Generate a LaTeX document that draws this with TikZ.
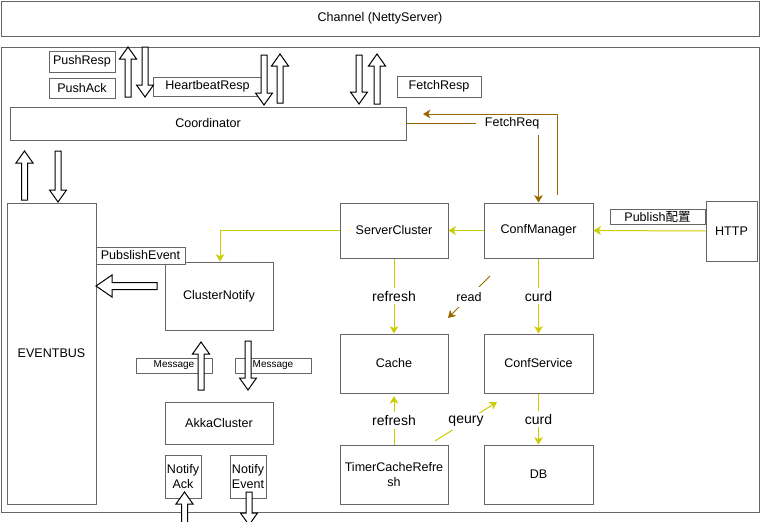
\documentclass[tikz,border=0pt]{standalone}
\usepackage{fontspec}
\setmainfont{Liberation Sans}
\newfontfamily\cjk{Noto Sans CJK SC}
\usetikzlibrary{arrows.meta}
\definecolor{linegray}{RGB}{102,102,102}
\definecolor{yel}{RGB}{204,204,0}
\definecolor{brn}{RGB}{153,102,0}
\tikzset{
  box/.style 2 args={draw=linegray, line width=0.75pt, minimum width=#1*0.75pt,
    minimum height=#2*0.75pt, inner sep=0pt, align=center},
  blockarr/.style={draw=black, fill=white, line width=0.75pt, line join=miter},
  yline/.style={draw=yel, line width=0.75pt, -{Stealth[length=5.5pt, width=6.5pt, inset=1.5pt]}},
  bline/.style={draw=brn, line width=0.75pt, -{Stealth[length=5.5pt, width=6.5pt, inset=1.5pt]}},
  lbl/.style={fill=white, inner sep=2.5pt, font=\fontsize{10.5}{12}\selectfont},
  smalllbl/.style={fill=white, inner sep=2.5pt},
}
% hollow block arrows: x, tip, base  /  x, top, tip  /  y, tip, base
\newcommand\hollowup[3]{\draw[blockarr] (#1-3,#3) -- (#1-3,#2+12) -- (#1-8.5,#2+12) -- (#1,#2) -- (#1+8.5,#2+12) -- (#1+3,#2+12) -- (#1+3,#3) -- cycle;}
\newcommand\hollowdown[3]{\draw[blockarr] (#1-3,#2) -- (#1-3,#3-12) -- (#1-8.5,#3-12) -- (#1,#3) -- (#1+8.5,#3-12) -- (#1+3,#3-12) -- (#1+3,#2) -- cycle;}
\newcommand\hollowleft[3]{\draw[blockarr] (#3,#1-3.5) -- (#2+16,#1-3.5) -- (#2+16,#1-11) -- (#2,#1) -- (#2+16,#1+11) -- (#2+16,#1+3.5) -- (#3,#1+3.5) -- cycle;}
\begin{document}
\begin{tikzpicture}[x=0.75pt, y=-0.75pt, font=\fontsize{9.4}{11}\selectfont]
\useasboundingbox (0,0) rectangle (760,521);
% frames
\node[box={758}{35}] (Channel) at (380,18.5) {Channel (NettyServer)};
\draw[linegray, line width=0.75pt] (1,47) rectangle (759,512);
% top row
\node[box={66}{21}] (PushResp) at (82,61.5) {PushResp};
\node[box={66}{20}] (PushAck) at (82,88) {PushAck};
\node[box={109}{19}] (HbResp) at (207.5,86.5) {HeartbeatResp};
\node[box={84}{21}] (FetchResp) at (439,86.5) {FetchResp};
\node[box={396}{33}] (Coord) at (208,123.5) {Coordinator};
% left part
\node[box={89}{301}] (EventBus) at (51.5,353.5) {EVENTBUS};
\node[box={108}{68}] (ClNotify) at (219,296) {ClusterNotify};
\node[box={89}{17}, fill=white] (PubEvent) at (140.5,255.5) {PubslishEvent};
\node[box={76}{15}, font=\fontsize{7.5}{9}\selectfont] (Msg_up) at (174,365.5) {Message};
\node[box={76}{15}, font=\fontsize{7.5}{9}\selectfont] (Msg_down) at (273,365.5) {Message};
\node[box={108}{42}] (Akka) at (219,423) {AkkaCluster};
\node[box={36}{43}] (NAck) at (183,476.5) {Notify\\Ack};
\node[box={36}{43}] (NEvent) at (248,476.5) {Notify\\Event};
% right part
\node[box={108}{55}] (SCluster) at (394,230.5) {ServerCluster};
\node[box={109}{55}] (ConfM) at (538.5,230.5) {ConfManager};
\node[box={51}{60}] (Http) at (731.5,231) {HTTP};
\node[box={95}{15}] (Publish) at (657.5,216.5) {Publish{\cjk 配置}};
\node[box={108}{59}] (Cache) at (394,363.5) {Cache};
\node[box={109}{59}] (ConfSvc) at (538.5,363.5) {ConfService};
\node[box={108}{59}] (Timer) at (394,474.5) {TimerCacheRefre\\sh};
\node[box={109}{59}] (DB) at (538.5,474.5) {DB};
% yellow flows
\draw[yline] (Http.west) -- (ConfM.east);
\draw[yline] (ConfM.west) -- (SCluster.east);
\draw[yline] (SCluster.west) -| ([xshift=0.75pt]ClNotify.north);
\draw[yline] (SCluster) -- (Cache) node[midway, lbl] {refresh};
\draw[yline] (ConfM) -- (ConfSvc) node[midway, lbl] {curd};
\draw[yline] (Timer.north) -- ([yshift=-2pt]Cache.south) node[midway, lbl] {refresh};
\draw[yline] (ConfSvc) -- (DB) node[midway, lbl] {curd};
\coordinate (Qy_a) at (435,441);
\coordinate (Qy_b) at (497,402);
\draw[yline] (Qy_a) -- (Qy_b) node[midway, lbl] {qeury};
% brown flows
\draw[bline] (Coord.east) -| (ConfM.north) node[pos=0.4, smalllbl, inner xsep=7pt, inner ysep=4pt] {FetchReq};
\coordinate (Fr_tip) at (423,114);
\draw[bline] ([xshift=14.6pt, yshift=6pt]ConfM.north) |- (Fr_tip);
\coordinate (Rd_a) at (490,276);
\coordinate (Rd_b) at (448,318);
\draw[bline] (Rd_a) -- (Rd_b) node[midway, smalllbl, inner sep=4pt] {read};
% block arrows
\hollowup{128}{47}{97}
\hollowdown{145}{47}{97}
\hollowdown{264}{55}{105}
\hollowup{280}{54}{103}
\hollowdown{359}{55}{104}
\hollowup{377}{54}{104}
\hollowup{24.5}{151}{200}
\hollowdown{58}{151}{202}
\hollowleft{286}{96}{157}
\hollowup{201}{342}{390}
\hollowdown{248}{341}{390}
\hollowup{184.5}{492}{530}
\hollowdown{249}{492}{525}
\end{tikzpicture}
\end{document}
